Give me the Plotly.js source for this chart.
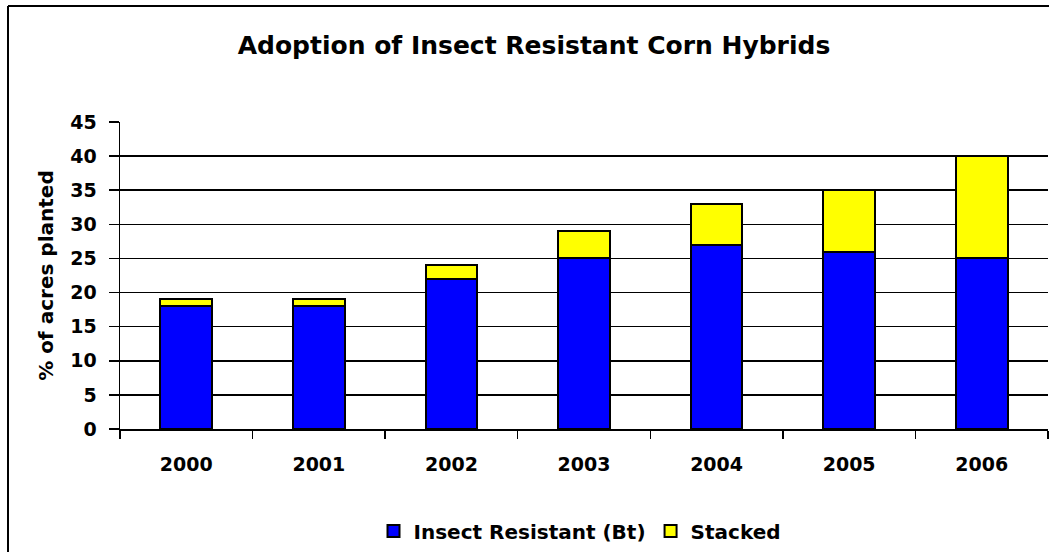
<!DOCTYPE html>
<html>
<head>
<meta charset="utf-8">
<script src="https://cdn.plot.ly/plotly-3.0.1.min.js"></script>
<style>
html,body{margin:0;padding:0;background:#fff;}
#chart{width:1049px;height:552px;}
</style>
</head>
<body>
<div id="chart"></div>
<script>
const years = ["2000","2001","2002","2003","2004","2005","2006"];
const btValues = [18, 18, 22, 25, 27, 26, 25];
const stackedValues = [1, 1, 2, 4, 6, 9, 15];
const yTicks = [0,5,10,15,20,25,30,35,40,45];

const FONT = "'DejaVu Sans', Verdana, sans-serif";
const L = 120, R = 1, T = 122, B = 123, W = 1049, H = 552;
const pw = W - L - R, ph = H - T - B;
const px = v => (v - L) / pw;
const py = v => (H - B - v) / ph;

const traces = [
  {type:'bar', x: years, y: btValues, name:'Insect Resistant (Bt)',
   marker:{color:'#0000FF', line:{color:'#000', width:2}}, width:0.39},
  {type:'bar', x: years, y: stackedValues, name:'Stacked',
   marker:{color:'#FFFF00', line:{color:'#000', width:2}}, width:0.39}
];

const layout = {
  width: W, height: H,
  margin:{l:L, r:R, t:T, b:B, pad:0},
  barmode:'stack',
  paper_bgcolor:'#fff', plot_bgcolor:'#fff',
  font:{family:FONT, color:'#000', size:18},
  title:{text:'<b>Adoption of Insect Resistant Corn Hybrids</b>', font:{family:FONT, size:25, color:'#000'},
    x:534/W, xanchor:'center', xref:'container', y:1-45/H, yanchor:'middle', yref:'container'},
  xaxis:{type:'category', showline:true, linecolor:'#000', linewidth:1.5,
    ticks:'outside', tickson:'boundaries', ticklen:8, tickcolor:'#000', tickwidth:1.5,
    ticklabelstandoff:18,
    tickfont:{family:FONT, size:19, color:'#000', weight:'bold'}, showgrid:false, zeroline:false,
    fixedrange:true},
  yaxis:{range:[0,45], tickvals:yTicks, ticktext:yTicks.map(String), showline:true, linecolor:'#000', linewidth:1.5,
    ticks:'outside', ticklen:10, tickcolor:'#000', tickwidth:1.5,
    ticklabelstandoff:8,
    showgrid:true, gridcolor:'#000', gridwidth:1.5, zeroline:false,
    tickfont:{family:FONT, size:19, color:'#000', weight:'bold'},
    title:{text:'<b>% of acres planted</b>', font:{family:FONT, size:20, color:'#000'}, standoff:11}},
  legend:{orientation:'h', x:580/W, xref:'container', xanchor:'center', y:1-531/H, yref:'container', yanchor:'middle',
    font:{family:FONT, size:20, color:'#000', weight:'bold'}, traceorder:'normal', itemwidth:30},
  showlegend:true,
  shapes:[
    {type:'line', xref:'paper', yref:'paper', x0:px(8), x1:px(8), y0:py(560), y1:py(6), line:{color:'#000', width:2}},
    {type:'line', xref:'paper', yref:'paper', x0:px(8), x1:px(1060), y0:py(6), y1:py(6), line:{color:'#000', width:2}}
  ]
};

Plotly.newPlot('chart', traces, layout, {displayModeBar:false, staticPlot:true});
</script>
</body>
</html>
